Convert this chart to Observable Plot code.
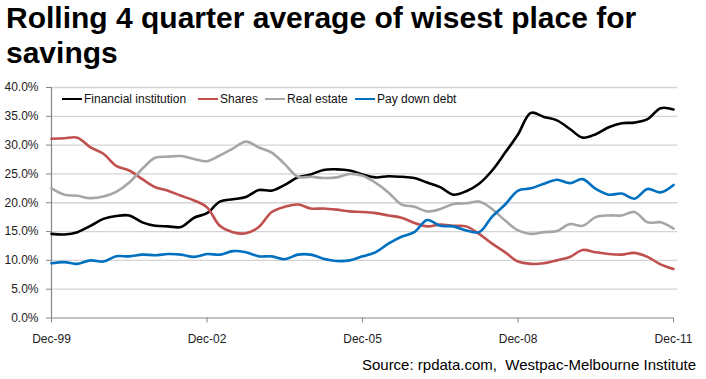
<!DOCTYPE html>
<html>
<head>
<meta charset="utf-8">
<script src="https://cdn.jsdelivr.net/npm/d3@7"></script>
<script src="https://cdn.jsdelivr.net/npm/@observablehq/plot@0.6"></script>
<style>
  html, body { margin: 0; padding: 0; background: #fff; }
  body { width: 706px; height: 379px; position: relative; overflow: hidden;
         font-family: "Liberation Sans", Arial, sans-serif; }
  #title { position: absolute; left: 6px; top: 0px; width: 700px;
           font-weight: bold; font-size: 30px; line-height: 35px; color: #000; }
  #chart { position: absolute; left: 0; top: 76px; }
  #legend { position: absolute; left: 0; top: 91px; height: 16px; width: 706px; }
  .item { position: absolute; top: 0; height: 16px; display: flex; align-items: center;
          font-size: 12px; color: #111; white-space: nowrap; }
  .sw { width: 20px; height: 2.6px; margin-right: 2px; }
  #caption { position: absolute; right: 10px; top: 356px; font-size: 15px; line-height: 18px; color: #000; }
</style>
</head>
<body>
<div id="title">Rolling 4 quarter average of wisest place for<br>savings</div>
<div id="chart"></div>
<div id="legend"></div>
<div id="caption">Source: rpdata.com,&nbsp; Westpac-Melbourne Institute</div>
<script>
// Quarterly series, Dec-99 to Dec-11 (49 quarters), values in %
const seriesNames = ["Financial institution", "Shares", "Real estate", "Pay down debt"];
const seriesColors = ["#000000", "#c0504d", "#a6a6a6", "#0070c0"];
const tickLabels = ["Dec-99", "Dec-02", "Dec-05", "Dec-08", "Dec-11"];
const yTickValues = [0, 5, 10, 15, 20, 25, 30, 35, 40];

const financial = [14.6, 14.5, 14.9, 16.0, 17.2, 17.7, 17.8, 16.6, 16.0, 15.9,
  15.8, 17.4, 18.2, 20.2, 20.6, 21.0, 22.2, 22.1, 23.1, 24.4,
  24.9, 25.7, 25.8, 25.6, 24.9, 24.4, 24.6, 24.5, 24.3, 23.5,
  22.7, 21.4, 22.0, 23.3, 25.6, 28.7, 31.9, 35.6, 34.9, 34.3,
  32.8, 31.3, 31.9, 33.1, 33.8, 33.9, 34.5, 36.4, 36.2];
const shares = [31.1, 31.2, 31.3, 29.6, 28.5, 26.4, 25.6, 24.1, 22.7, 22.1,
  21.2, 20.4, 19.2, 16.0, 14.9, 14.7, 15.8, 18.4, 19.3, 19.7,
  19.0, 19.0, 18.8, 18.5, 18.4, 18.2, 17.8, 17.4, 16.5, 15.9,
  16.2, 16.0, 15.9, 14.6, 12.9, 11.4, 9.8, 9.4, 9.5, 10.0,
  10.6, 11.8, 11.4, 11.1, 11.0, 11.3, 10.6, 9.3, 8.5];
const realEstate = [22.5, 21.4, 21.2, 20.8, 21.1, 21.9, 23.5, 25.9, 27.8, 28.0,
  28.1, 27.6, 27.2, 28.2, 29.4, 30.6, 29.6, 28.7, 26.7, 24.5,
  24.5, 24.3, 24.4, 25.0, 24.7, 23.5, 21.8, 19.7, 19.3, 18.5,
  18.9, 19.8, 19.9, 20.2, 18.9, 16.9, 15.2, 14.6, 14.9, 15.1,
  16.3, 16.0, 17.5, 17.8, 17.8, 18.4, 16.6, 16.6, 15.5];
const payDownDebt = [9.5, 9.7, 9.4, 10.0, 9.8, 10.7, 10.7, 11.0, 10.9, 11.1,
  11.0, 10.6, 11.1, 11.0, 11.6, 11.4, 10.7, 10.7, 10.2, 11.0,
  11.0, 10.3, 9.9, 10.0, 10.7, 11.4, 12.9, 14.1, 14.9, 17.0,
  16.0, 15.9, 15.2, 14.9, 17.6, 19.7, 22.1, 22.5, 23.3, 24.0,
  23.4, 24.1, 22.4, 21.4, 21.6, 20.7, 22.4, 21.8, 23.1];

const allSeries = [financial, shares, realEstate, payDownDebt];
const parseLabel = d3.utcParse("%b-%y");
const start = parseLabel(tickLabels[0]);
const tickDates = tickLabels.map(parseLabel);

const rows = [];
allSeries.forEach((vals, s) => {
  vals.forEach((v, i) => rows.push({
    date: d3.utcMonth.offset(start, 3 * i),
    value: v / 100,
    series: seriesNames[s]
  }));
});
const end = d3.max(rows, d => d.date);

const chart = Plot.plot({
  width: 706,
  height: 270,
  marginLeft: 51,
  marginRight: 33,
  marginTop: 11,
  marginBottom: 28.5,
  style: { fontFamily: "Liberation Sans, Arial, sans-serif", fontSize: "12px", background: "transparent" },
  x: { type: "utc", domain: [start, end], label: null },
  y: { domain: [0, 0.4], label: null },
  color: { domain: seriesNames, range: seriesColors },
  marks: [
    Plot.ruleY(yTickValues.slice(1).map(v => v / 100), {
      x1: start, x2: d3.utcDay.offset(end, 30), stroke: "#d4d4d4", strokeWidth: 1.3
    }),
    Plot.ruleY([0], { stroke: "#868686", strokeWidth: 1.2 }),
    Plot.ruleX([start], { stroke: "#868686", strokeWidth: 1.2 }),
    Plot.axisY({
      ticks: yTickValues.map(v => v / 100),
      tickFormat: d3.format(".1%"),
      tickSize: 5, tickPadding: 8, label: null,
      stroke: "#868686", fill: "#222", fontSize: 12
    }),
    Plot.axisX({
      ticks: tickDates,
      tickFormat: d3.utcFormat("%b-%y"),
      tickSize: 5, tickPadding: 11, label: null,
      stroke: "#868686", fill: "#222", fontSize: 12
    }),
    Plot.line(rows, {
      x: "date", y: "value", z: "series", stroke: "series",
      strokeWidth: 2.6, curve: "catmull-rom"
    })
  ]
});
document.getElementById("chart").appendChild(chart);

// Legend
const legendX = [62, 198, 265, 355];
const legend = document.getElementById("legend");
seriesNames.forEach((name, i) => {
  const item = document.createElement("div");
  item.className = "item";
  item.style.left = legendX[i] + "px";
  const sw = document.createElement("div");
  sw.className = "sw";
  sw.style.background = seriesColors[i];
  item.appendChild(sw);
  item.appendChild(document.createTextNode(name));
  legend.appendChild(item);
});
</script>
</body>
</html>
